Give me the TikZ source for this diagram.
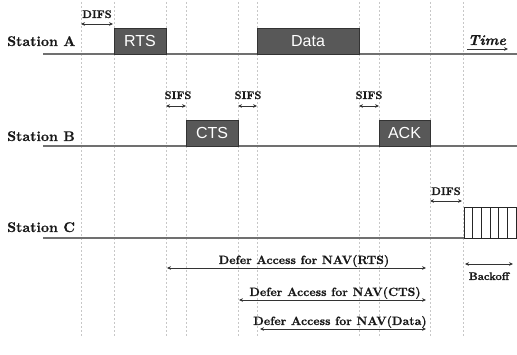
\documentclass[tikz,border=0pt]{standalone}
\usepackage{fontspec}
\newfontfamily\boxfont{Liberation Sans}
\newfontfamily\lblfont{lmroman10-bold}[Extension=.otf, FakeBold=0.6]
\newfontfamily\timefont{lmroman10-bolditalic}[Extension=.otf, FakeBold=0.6]
\usetikzlibrary{arrows.meta,calc}
\definecolor{boxgray}{RGB}{88,88,88}
\definecolor{linegray}{RGB}{112,112,112}
\begin{document}
\begin{tikzpicture}[x=1pt,y=-1pt,
  frame/.style={draw=black!80, fill=boxgray, inner sep=0pt, outer sep=0pt, anchor=south west,
    minimum height=26pt, font=\boxfont\fontsize{16}{16}\selectfont, text=white},
  lbl/.style={font=\lblfont\fontsize{11}{11}\selectfont, anchor=base, inner sep=0pt, text=black!90},
  defer/.style={font=\lblfont\fontsize{12}{12}\selectfont, anchor=base, inner sep=0pt, text=black!90},
  station/.style={font=\lblfont\fontsize{14}{14}\selectfont, anchor=base west, inner sep=0pt, text=black!90},
  timeline/.style={draw=linegray, line width=1.3pt},
  guide/.style={draw=black!22, dash pattern=on 2pt off 2pt, line width=0.5pt},
  tip/.tip={Stealth[length=4pt,width=3.6pt]},
  span/.style={tip-tip, line width=0.6pt, draw=black!80},
  cell/.style={draw=black!85, line width=0.6pt}]
\useasboundingbox (0,0) rectangle (517,355);

% guide lines
\foreach \gx in {81,114,166,186,238,257,359,379,430,463}{
  \draw[guide] (\gx,2) -- (\gx,336);
}

% station labels
\node[station] (sa) at (7,46) {Station A};
\node[station] (sb) at (7,141) {Station B};
\node[station] (sc) at (7,232) {Station C};

% timelines
\coordinate (a0) at (43,54);
\coordinate (a1) at (517,54);
\coordinate (b0) at (43,146);
\coordinate (b1) at (517,146);
\coordinate (c0) at (43,238);
\draw[timeline] (a0) -- (a1);
\draw[timeline] (b0) -- (b1);

% frames
\node[frame, minimum width=52pt] (rts) at (114,54) {RTS};
\node[frame, minimum width=102pt] (data) at (257,54) {Data};
\node[frame, minimum width=52pt] (cts) at (186,146) {CTS};
\node[frame, minimum width=51pt] (ack) at (379,146) {ACK};

% backoff slots
\node[draw=black!85, fill=white, line width=0.6pt, inner sep=0pt, outer sep=0pt, anchor=south west,
  minimum width=52pt, minimum height=31pt] (bo) at (464,238) {};
\draw[timeline] (c0) -- (bo.south west);
\foreach \k in {1,...,5}{
  \draw[cell] ($(bo.south west)+(\k*8.667,0)$) -- ($(bo.north west)+(\k*8.667,0)$);
}

% time label
\node[font=\timefont\fontsize{14.5}{14.5}\selectfont, anchor=base, inner sep=0pt, text=black!90] (time) at (487,45) {Time};
\coordinate (t0) at (467,49);
\coordinate (t1) at (508,49);
\draw[-tip, line width=0.6pt, draw=black!80] (t0) -- (t1);

% DIFS / SIFS
\node[lbl] (difsa) at (97,18) {DIFS};
\coordinate (da0) at (81,24); \coordinate (da1) at (113,24);
\draw[span] (da0) -- (da1);

\node[lbl] (sifs1) at (178,99) {SIFS};
\coordinate (s10) at (166,106); \coordinate (s11) at (186,106);
\draw[span] (s10) -- (s11);

\node[lbl] (sifs2) at (248,99) {SIFS};
\coordinate (s20) at (238,106); \coordinate (s21) at (257,106);
\draw[span] (s20) -- (s21);

\node[lbl] (sifs3) at (369,99) {SIFS};
\coordinate (s30) at (359,106); \coordinate (s31) at (379,106);
\draw[span] (s30) -- (s31);

\node[lbl] (difsc) at (446,195) {DIFS};
\coordinate (dc0) at (430,201); \coordinate (dc1) at (462,201);
\draw[span] (dc0) -- (dc1);

% NAV deferrals
\node[defer] (nav1) at (304,264) {Defer Access for NAV(RTS)};
\coordinate (n10) at (167,268); \coordinate (n11) at (426,268);
\draw[span] (n10) -- (n11);

\node[defer] (nav2) at (335,296) {Defer Access for NAV(CTS)};
\coordinate (n20) at (239,300); \coordinate (n21) at (426,300);
\draw[span] (n20) -- (n21);

\node[defer] (nav3) at (340,325) {Defer Access for NAV(Data)};
\coordinate (n30) at (260,329); \coordinate (n31) at (426,329);
\draw[span] (n30) -- (n31);

% backoff
\coordinate (k0) at (465,264); \coordinate (k1) at (513,264);
\draw[span] (k0) -- (k1);
\node[lbl] (backoff) at (489,280) {Backoff};
\end{tikzpicture}
\end{document}
